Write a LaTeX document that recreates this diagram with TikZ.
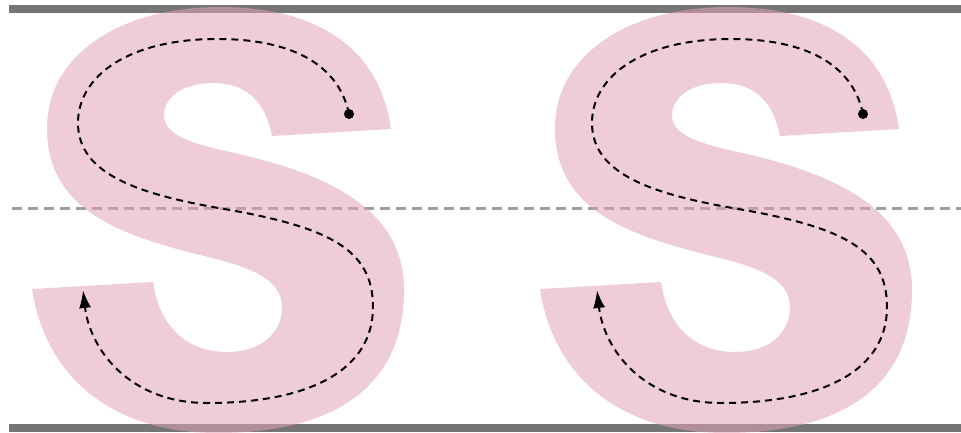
\documentclass[tikz,border=0pt]{standalone}
\usepackage{xcolor}
\definecolor{letterPink}{RGB}{224, 164, 186}
\definecolor{ruleGray}{RGB}{117, 117, 117}
\definecolor{midGray}{RGB}{158, 158, 158}
\usepackage{tikz}
\usetikzlibrary{
    arrows.meta,
    positioning
}

\begin{document}
\begin{tikzpicture}[
    x=1pt, y=-1pt,
    ruleLine/.style={
        draw=ruleGray, line width=8pt
    },
    midLine/.style={
        draw=midGray, line width=3pt, dash pattern=on 10pt off 6pt
    },
    sLetter/.style={
        fill=letterPink, fill opacity=0.55
    },
    strokePath/.style={
        draw=black, line width=2pt, dash pattern=on 7pt off 5pt,
        -{Latex[length=18pt, width=12pt]}
    },
    startDot/.style={
        circle, fill=black, inner sep=0pt, minimum size=10pt
    }
]
    \useasboundingbox (0,0) rectangle (961,433);

    % Guide lines
    \coordinate (topL) at (9,9);
    \coordinate (topR) at (961,9);
    \coordinate (botL) at (9,428);
    \coordinate (botR) at (961,428);
    \coordinate (midL) at (12,208);
    \coordinate (midR) at (961,208);
    \draw[ruleLine] (topL) -- (topR);
    \draw[ruleLine] (botL) -- (botR);
    \draw[midLine] (midL) -- (midR);

    % Letters with their stroke order
    \foreach \n/\dx/\px in {1/0/0, 2/508/514} {
        \begin{scope}[xshift=\dx pt]
            \fill[sLetter] (391,129) -- (272,136)
                .. controls (265,100) and (245,83) .. (213,83)
                .. controls (182,83) and (164,98) .. (164,115)
                .. controls (164,135) and (190,143) .. (230,152)
                .. controls (340,176) and (404,215) .. (404,290)
                .. controls (404,390) and (330,433) .. (217,433)
                .. controls (110,433) and (45,375) .. (32,289)
                -- (153,282)
                .. controls (160,330) and (190,352) .. (227,352)
                .. controls (262,352) and (282,332) .. (282,308)
                .. controls (282,280) and (255,268) .. (200,255)
                .. controls (110,233) and (47,205) .. (47,128)
                .. controls (47,55) and (120,7) .. (220,7)
                .. controls (320,7) and (380,50) .. (391,129) -- cycle;
        \end{scope}
        \begin{scope}[xshift=\px pt]
            \node[startDot] (start\n) at (349,114) {};
            \coordinate (end\n) at (83,290);
            \draw[strokePath] (start\n.center)
                .. controls (340,70) and (300,39) .. (217,39)
                .. controls (130,39) and (78,75) .. (78,123)
                .. controls (78,175) and (140,195) .. (230,210)
                .. controls (330,228) and (373,250) .. (373,307)
                .. controls (373,370) and (310,403) .. (207,403)
                .. controls (130,403) and (90,350) .. (end\n);
        \end{scope}
    }

\end{tikzpicture}
\end{document}
